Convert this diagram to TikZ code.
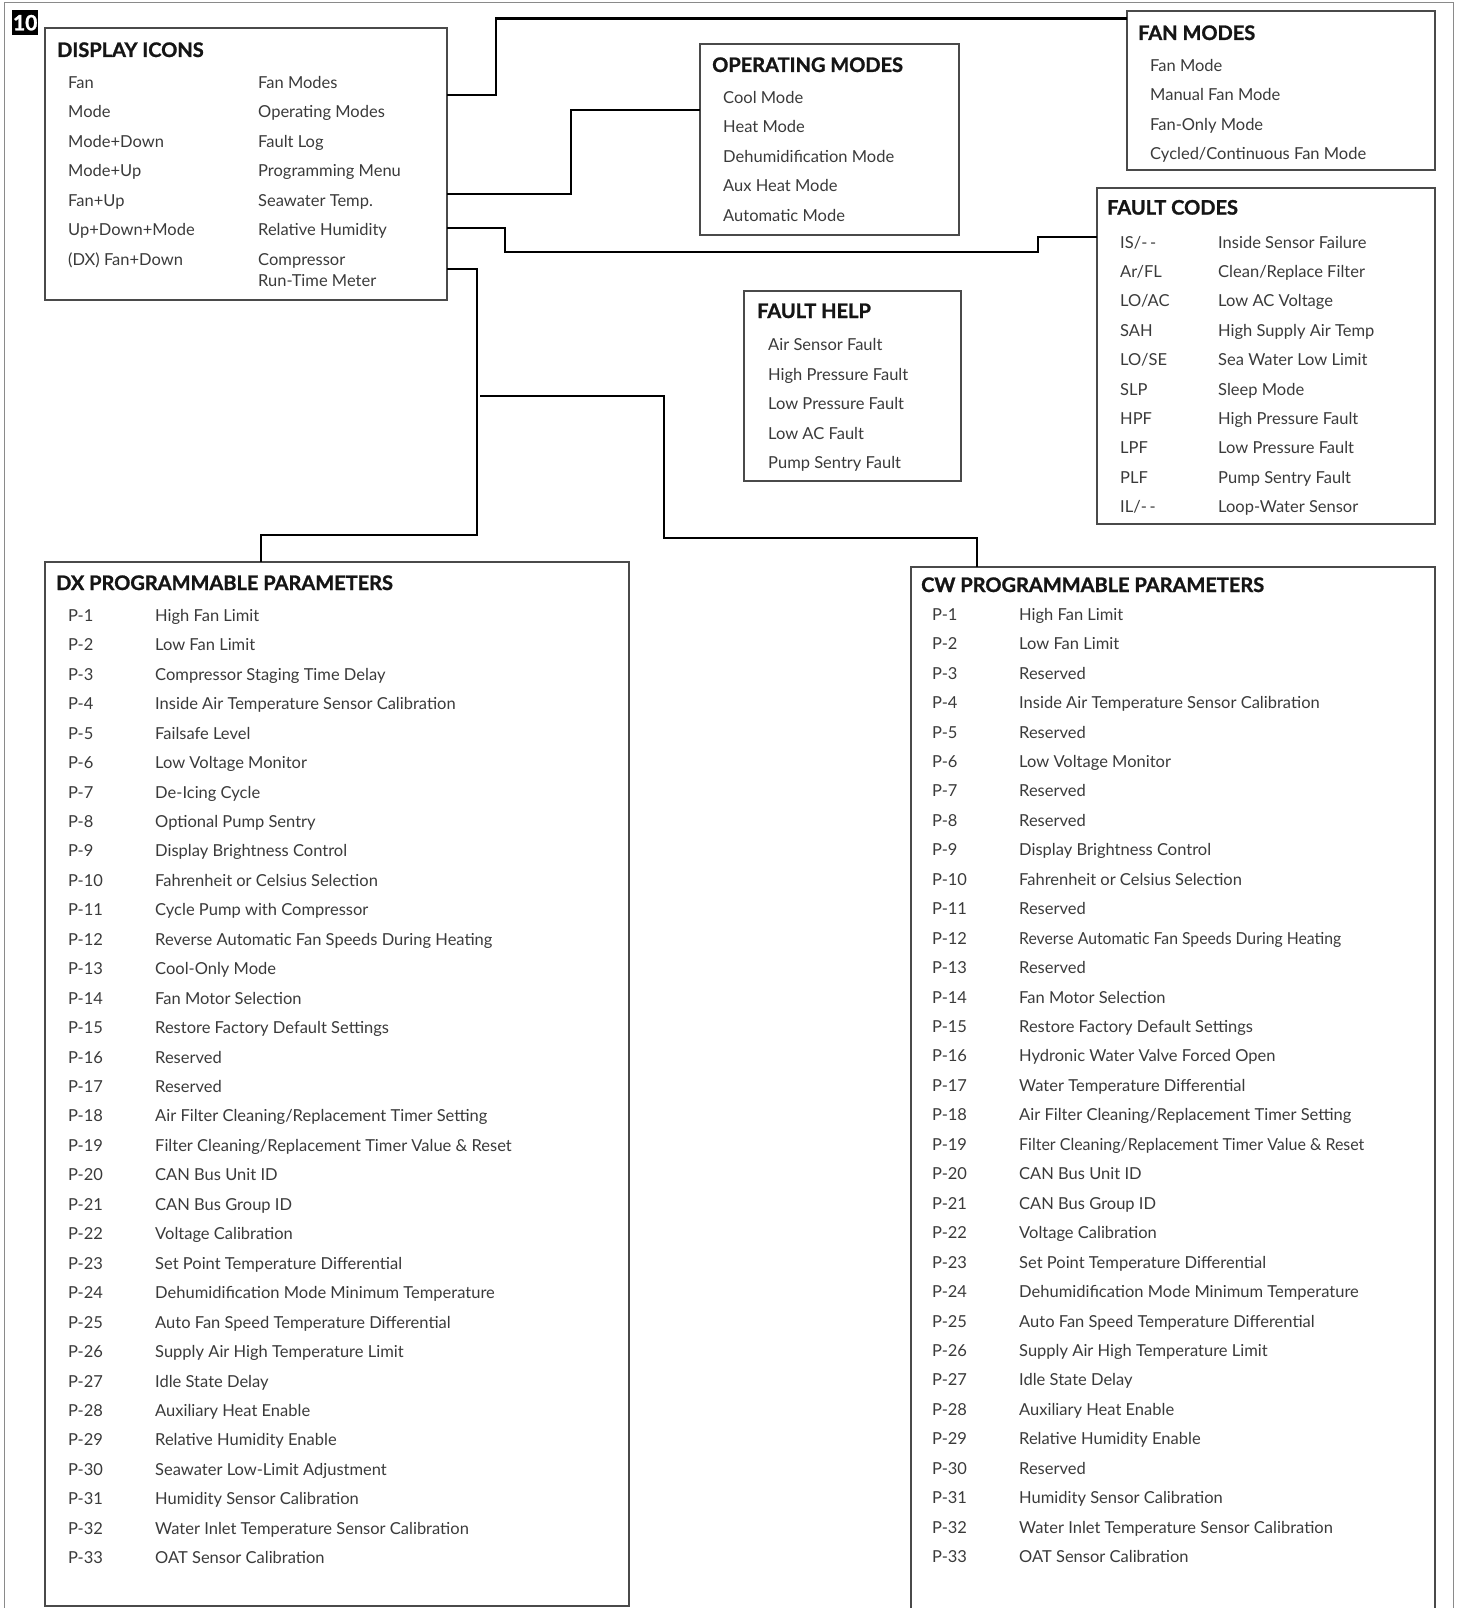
\documentclass[tikz,border=0pt]{standalone}
\usepackage{graphicx}
\usepackage{fontspec}
\setmainfont{Lato}
\newfontfamily\titlefont{Lato}[BoldFeatures={FakeBold=1.2}]
\definecolor{itemgray}{HTML}{3A3A3A}
\definecolor{titleblk}{HTML}{151515}
\definecolor{boxgray}{HTML}{4A4A4A}
\definecolor{framegray}{HTML}{8A8A8A}
\tikzset{
  box/.style={draw=boxgray, line width=1.5pt, anchor=north west, inner sep=0pt, outer sep=0pt},
  conn/.style={draw=black, line width=2.8pt, line join=miter},
  item/.style={anchor=base west, inner sep=0pt, font=\fontsize{16.5}{18}\selectfont, text=itemgray},
  ttl/.style={anchor=base west, inner sep=0pt, font=\titlefont\bfseries\fontsize{20}{24}\selectfont, text=titleblk},
}
\begin{document}
\begin{tikzpicture}[x=1pt,y=-1pt]
\useasboundingbox (0,0) rectangle (1456,1608);
% outer frame
\draw[framegray, line width=1pt] (4,1640) -- (4,3) -- (1453,3) -- (1453,1640);
% badge
\node[fill=black, text=white, font=\titlefont\bfseries\fontsize{21}{21}\selectfont, minimum width=26pt, minimum height=25pt, inner sep=0pt, anchor=north west] (badge) at (12,10) {10};

% boxes
\node[box, minimum width=402pt, minimum height=272pt] (icons) at (45,28) {};
\node[box, minimum width=259pt, minimum height=191pt] (opm) at (700,44) {};
\node[box, minimum width=308pt, minimum height=159pt] (fanm) at (1127,11) {};
\node[box, minimum width=338pt, minimum height=336pt] (fcodes) at (1097,188) {};
\node[box, minimum width=217pt, minimum height=190pt] (fhelp) at (744,291) {};
\node[box, minimum width=584pt, minimum height=1044pt] (dx) at (45,562) {};
\node[box, minimum width=524pt, minimum height=1080pt] (cw) at (911,567) {};

% DISPLAY ICONS
\node[ttl] (icons-t) at (57,57) {DISPLAY ICONS};
\foreach \a/\b [count=\i] in {{Fan}/{Fan Modes},{Mode}/{Operating Modes},{Mode+Down}/{Fault Log},{Mode+Up}/{Programming Menu},{Fan+Up}/{Seawater Temp.},{Up+Down+Mode}/{Relative Humidity},{(DX) Fan+Down}/{Compressor}}{
  \node[item] (icons-a\i) at (68,{88.3+29.45*(\i-1)}) {\a};
  \node[item] (icons-b\i) at (258,{88.3+29.45*(\i-1)}) {\b};
}
\node[item] (icons-b8) at (258,286) {Run-Time Meter};

% OPERATING MODES
\node[ttl] (opm-t) at (712,72) {OPERATING MODES};
\foreach \a [count=\i] in {Cool Mode,Heat Mode,Dehumidification Mode,Aux Heat Mode,Automatic Mode}{
  \node[item] (opm-\i) at (723,{103.4+29.5*(\i-1)}) {\a};
}

% FAN MODES
\node[ttl] (fanm-t) at (1138,40) {FAN MODES};
\foreach \a [count=\i] in {Fan Mode,Manual Fan Mode,Fan-Only Mode,Cycled/Continuous Fan Mode}{
  \node[item] (fanm-\i) at (1150,{71.6+29.4*(\i-1)}) {\a};
}

% FAULT CODES
\node[ttl] (fcodes-t) at (1107,214.6) {FAULT CODES};
\foreach \a/\b [count=\i] in {{IS/-\,-}/{Inside Sensor Failure},{Ar/FL}/{Clean/Replace Filter},{LO/AC}/{Low AC Voltage},{SAH}/{High Supply Air Temp},{LO/SE}/{Sea Water Low Limit},{SLP}/{Sleep Mode},{HPF}/{High Pressure Fault},{LPF}/{Low Pressure Fault},{PLF}/{Pump Sentry Fault},{IL/-\,-}/{Loop-Water Sensor}}{
  \node[item] (fcodes-a\i) at (1120,{248+29.4*(\i-1)}) {\a};
  \node[item] (fcodes-b\i) at (1218,{248+29.4*(\i-1)}) {\b};
}

% FAULT HELP
\node[ttl] (fhelp-t) at (757,318) {FAULT HELP};
\foreach \a [count=\i] in {Air Sensor Fault,High Pressure Fault,Low Pressure Fault,Low AC Fault,Pump Sentry Fault}{
  \node[item] (fhelp-\i) at (768,{350.5+29.5*(\i-1)}) {\a};
}

% DX PROGRAMMABLE PARAMETERS
\node[ttl] (dx-t) at (56,590) {DX PROGRAMMABLE PARAMETERS};
\foreach \d [count=\i] in {{High Fan Limit},{Low Fan Limit},{Compressor Staging Time Delay},{Inside Air Temperature Sensor Calibration},{Failsafe Level},{Low Voltage Monitor},{De-Icing Cycle},{Optional Pump Sentry},{Display Brightness Control},{Fahrenheit or Celsius Selection},{Cycle Pump with Compressor},{Reverse Automatic Fan Speeds During Heating},{Cool-Only Mode},{Fan Motor Selection},{Restore Factory Default Settings},{Reserved},{Reserved},{Air Filter Cleaning/Replacement Timer Setting},{Filter Cleaning/Replacement Timer Value \& Reset},{CAN Bus Unit ID},{CAN Bus Group ID},{Voltage Calibration},{Set Point Temperature Differential},{Dehumidification Mode Minimum Temperature},{Auto Fan Speed Temperature Differential},{Supply Air High Temperature Limit},{Idle State Delay},{Auxiliary Heat Enable},{Relative Humidity Enable},{Seawater Low-Limit Adjustment},{Humidity Sensor Calibration},{Water Inlet Temperature Sensor Calibration},{OAT Sensor Calibration}}{
  \node[item] (dx-a\i) at (68,{621.3+29.45*(\i-1)}) {P-\i};
  \node[item] (dx-b\i) at (155,{621.3+29.45*(\i-1)}) {\d};
}

% CW PROGRAMMABLE PARAMETERS
\node[ttl] (cw-t) at (921,592) {CW PROGRAMMABLE PARAMETERS};
\foreach \d [count=\i] in {{High Fan Limit},{Low Fan Limit},{Reserved},{Inside Air Temperature Sensor Calibration},{Reserved},{Low Voltage Monitor},{Reserved},{Reserved},{Display Brightness Control},{Fahrenheit or Celsius Selection},{Reserved},{\scalebox{0.955}[1]{Reverse Automatic Fan Speeds During Heating}},{Reserved},{Fan Motor Selection},{Restore Factory Default Settings},{Hydronic Water Valve Forced Open},{Water Temperature Differential},{Air Filter Cleaning/Replacement Timer Setting},{\scalebox{0.968}[1]{Filter Cleaning/Replacement Timer Value \& Reset}},{CAN Bus Unit ID},{CAN Bus Group ID},{Voltage Calibration},{Set Point Temperature Differential},{Dehumidification Mode Minimum Temperature},{Auto Fan Speed Temperature Differential},{Supply Air High Temperature Limit},{Idle State Delay},{Auxiliary Heat Enable},{Relative Humidity Enable},{Reserved},{Humidity Sensor Calibration},{Water Inlet Temperature Sensor Calibration},{OAT Sensor Calibration}}{
  \node[item] (cw-a\i) at (932,{620.2+29.45*(\i-1)}) {P-\i};
  \node[item] (cw-b\i) at (1019,{620.2+29.45*(\i-1)}) {\d};
}

% connectors
\draw[conn] ([yshift=-67pt]icons.north east) -- ++(49,0) |- ([yshift=-7.5pt]fanm.north west);
\draw[conn] ([yshift=-166pt]icons.north east) -- ++(124,0) |- ([yshift=-66pt]opm.north west);
\coordinate (fcin) at ([yshift=-49pt]fcodes.north west);
\draw[conn] ([yshift=-200pt]icons.north east) -- ++(58,0) -- ++(0,24) -| ([xshift=-59pt]fcin) -- (fcin);
\draw[conn] ([yshift=-241pt]icons.north east) -- ++(30,0) coordinate (v4) -- ++(0,266) -| ([xshift=216pt]dx.north west);
\coordinate (br) at ([yshift=-127pt,xshift=3pt]v4);
\draw[conn] (br) -- ++(184,0) -- ++(0,142) -| ([xshift=66pt]cw.north west);
\end{tikzpicture}
\end{document}
